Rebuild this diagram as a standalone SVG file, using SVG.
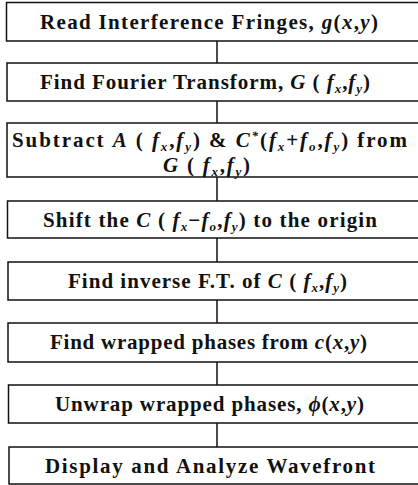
<svg xmlns="http://www.w3.org/2000/svg" width="418" height="485" viewBox="0 0 418 485">
<style>
.box{fill:#fff;stroke:#111;stroke-width:1.5}
.lbl{font-family:"Liberation Serif","Times New Roman",serif;font-weight:bold;font-size:21px;fill:#111}
.m{font-style:italic}
.s{font-size:13px;font-style:italic}
.c{stroke:#111;stroke-width:1.5;fill:none}
</style>
<rect width="418" height="485" fill="#fff"/>
<g id="connectors">
<line class="c" x1="217" y1="41" x2="217" y2="63"/>
<line class="c" x1="217" y1="101" x2="217" y2="123"/>
<line class="c" x1="217" y1="177" x2="217" y2="201"/>
<line class="c" x1="217" y1="238" x2="217" y2="262"/>
<line class="c" x1="217" y1="300" x2="217" y2="323"/>
<line class="c" x1="217" y1="362" x2="217" y2="385"/>
<line class="c" x1="217" y1="423" x2="217" y2="447"/>
</g>
<g id="n1">
<rect class="box" x="6.5" y="2.5" width="420" height="38.5"/>
<text class="lbl" x="40" y="29" textLength="338" lengthAdjust="spacing">Read Interference Fringes, <tspan class="m">g</tspan>(<tspan class="m">x</tspan>,<tspan class="m">y</tspan>)</text>
</g>
<g id="n2">
<rect class="box" x="7" y="63" width="420" height="38"/>
<text class="lbl" x="40" y="89" textLength="330" lengthAdjust="spacing">Find Fourier Transform, <tspan class="m">G</tspan> ( <tspan class="m">f</tspan><tspan class="s" dy="4">x</tspan><tspan dy="-4">,</tspan><tspan class="m">f</tspan><tspan class="s" dy="4">y</tspan><tspan dy="-4">)</tspan></text>
</g>
<g id="n3">
<rect class="box" x="7" y="123" width="420" height="54"/>
<text class="lbl" x="12" y="147" textLength="395" lengthAdjust="spacing">Subtract <tspan class="m">A</tspan> ( <tspan class="m">f</tspan><tspan class="s" dy="4">x</tspan><tspan dy="-4">,</tspan><tspan class="m">f</tspan><tspan class="s" dy="4">y</tspan><tspan dy="-4">)</tspan> &amp; <tspan class="m">C</tspan><tspan class="s" dy="-7">*</tspan><tspan dy="7">(</tspan><tspan class="m">f</tspan><tspan class="s" dy="4">x</tspan><tspan dy="-4">+</tspan><tspan class="m">f</tspan><tspan class="s" dy="4">o</tspan><tspan dy="-4">,</tspan><tspan class="m">f</tspan><tspan class="s" dy="4">y</tspan><tspan dy="-4">)</tspan> from</text>
<text class="lbl" x="163" y="172" textLength="87" lengthAdjust="spacing"><tspan class="m">G</tspan> ( <tspan class="m">f</tspan><tspan class="s" dy="4">x</tspan><tspan dy="-4">,</tspan><tspan class="m">f</tspan><tspan class="s" dy="4">y</tspan><tspan dy="-4">)</tspan></text>
</g>
<g id="n4">
<rect class="box" x="7.5" y="201" width="420" height="37"/>
<text class="lbl" x="43" y="227" textLength="334" lengthAdjust="spacing">Shift the <tspan class="m">C</tspan> ( <tspan class="m">f</tspan><tspan class="s" dy="4">x</tspan><tspan dy="-4">−</tspan><tspan class="m">f</tspan><tspan class="s" dy="4">o</tspan><tspan dy="-4">,</tspan><tspan class="m">f</tspan><tspan class="s" dy="4">y</tspan><tspan dy="-4">)</tspan> to the origin</text>
</g>
<g id="n5">
<rect class="box" x="8" y="262" width="420" height="38"/>
<text class="lbl" x="68" y="288" textLength="279" lengthAdjust="spacing">Find inverse F.T. of <tspan class="m">C</tspan> ( <tspan class="m">f</tspan><tspan class="s" dy="4">x</tspan><tspan dy="-4">,</tspan><tspan class="m">f</tspan><tspan class="s" dy="4">y</tspan><tspan dy="-4">)</tspan></text>
</g>
<g id="n6">
<rect class="box" x="8" y="323" width="420" height="39"/>
<text class="lbl" x="50" y="349" textLength="317" lengthAdjust="spacing">Find wrapped phases from <tspan class="m">c</tspan>(<tspan class="m">x</tspan>,<tspan class="m">y</tspan>)</text>
</g>
<g id="n7">
<rect class="box" x="8.5" y="385" width="420" height="38"/>
<text class="lbl" x="55" y="411" textLength="309" lengthAdjust="spacing">Unwrap wrapped phases, <tspan class="m">ϕ</tspan>(<tspan class="m">x</tspan>,<tspan class="m">y</tspan>)</text>
</g>
<g id="n8">
<rect class="box" x="9" y="447" width="420" height="37"/>
<text class="lbl" x="45" y="473" textLength="330" lengthAdjust="spacing">Display and Analyze Wavefront</text>
</g>
</svg>
